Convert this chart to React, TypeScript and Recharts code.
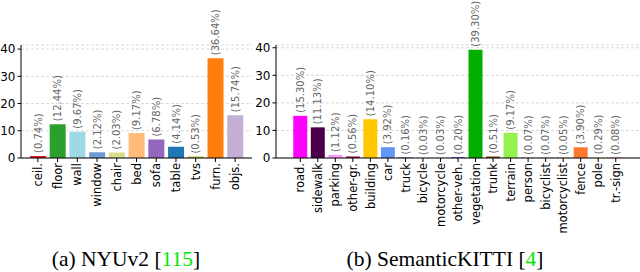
import React from 'react';
import { BarChart, Bar, XAxis, YAxis, CartesianGrid, LabelList, Cell } from 'recharts';

const nyuClasses = ['ceil.', 'floor', 'wall', 'window', 'chair', 'bed', 'sofa', 'table', 'tvs', 'furn.', 'objs.'];
const nyuValues = [0.74, 12.44, 9.67, 2.12, 2.03, 9.17, 6.78, 4.14, 0.53, 36.64, 15.74];
const nyuColors = ['#e41a1c', '#2ca02c', '#9edae5', '#6f9bd1', '#dbdb8d', '#ffbb78', '#9467bd', '#1f77b4', '#bcbd22', '#ff7f0e', '#c5b0d5'];

const kittiClasses = [
  'road.', 'sidewalk', 'parking', 'other-gr.', 'building', 'car', 'truck', 'bicycle', 'motorcycle',
  'other-veh.', 'vegetation', 'trunk', 'terrain', 'person', 'bicyclist', 'motorcyclist', 'fence', 'pole', 'tr.-sign',
];
const kittiValues = [15.3, 11.13, 1.12, 0.56, 14.1, 3.92, 0.16, 0.03, 0.03, 0.2, 39.3, 0.51, 9.17, 0.07, 0.07, 0.05, 3.9, 0.29, 0.08];
const kittiColors = [
  '#ff00ff', '#4b004b', '#ff96ff', '#af004b', '#ffc800', '#6496f5', '#501eb4', '#64e6f5', '#1e3c96',
  '#0000ff', '#00af00', '#873c00', '#96f050', '#ff1e1e', '#ff28c8', '#961e5a', '#ff7832', '#fff096', '#ff0000',
];

const yTicks = [0, 10, 20, 30, 40];

const FONT = '"DejaVu Sans", sans-serif';

const nyuData = nyuClasses.map((name, i) => ({ name, value: nyuValues[i] }));
const kittiData = kittiClasses.map((name, i) => ({ name, value: kittiValues[i] }));

const RotatedTick = (props: any) => {
  const { x, y, payload } = props;
  return (
    <g transform={`translate(${x},${y})`}>
      <text transform="rotate(-90)" textAnchor="end" dy="0.36em" fontSize={11.5} fontFamily={FONT} fill="#000">
        {payload.value}
      </text>
    </g>
  );
};

const ValueLabel = (props: any) => {
  const { x, y, width, value } = props;
  const cx = x + width / 2;
  return (
    <text
      transform={`translate(${cx},${y - 3}) rotate(-90)`}
      textAnchor="start"
      dy="0.36em"
      fontSize={10}
      fontFamily={FONT}
      fill="#666"
    >
      {`(${value.toFixed(2)}%)`}
    </text>
  );
};

type PanelProps = {
  data: { name: string; value: number }[];
  colors: string[];
  width: number;
  axisWidth: number;
  pad: number;
  top: number;
};

const Panel = ({ data, colors, width, axisWidth, pad, top }: PanelProps) => (
  <BarChart width={width} height={245} data={data} margin={{ top: 45, right: 0, bottom: 0, left: 0 }} barCategoryGap="10%">
    <CartesianGrid vertical={false} stroke="#cfcfcf" strokeDasharray="3 2" strokeWidth={0.8} />
    <XAxis
      dataKey="name"
      interval={0}
      height={87}
      padding={{ left: pad, right: pad }}
      tick={<RotatedTick />}
      tickSize={4}
      tickMargin={1}
      axisLine={{ stroke: '#000', strokeWidth: 1 }}
      tickLine={{ stroke: '#000' }}
    />
    <YAxis
      width={axisWidth}
      domain={[0, top]}
      ticks={yTicks}
      allowDataOverflow
      tickSize={3.5}
      tickMargin={2}
      tick={{ fontSize: 12, fontFamily: FONT, fill: '#000' }}
      axisLine={{ stroke: '#000', strokeWidth: 1 }}
      tickLine={{ stroke: '#000' }}
    />
    <Bar dataKey="value" isAnimationActive={false}>
      {data.map((d, i) => (
        <Cell key={d.name} fill={colors[i]} />
      ))}
      <LabelList dataKey="value" content={<ValueLabel />} />
    </Bar>
  </BarChart>
);

const captionStyle: React.CSSProperties = {
  position: 'absolute',
  top: 249,
  fontFamily: '"Liberation Serif", "Times New Roman", serif',
  fontSize: 21.5,
  lineHeight: '21px',
  textAlign: 'center',
  whiteSpace: 'nowrap',
  color: '#000',
};

const App = () => (
  <div style={{ position: 'absolute', left: 0, top: 0, width: 640, height: 272, background: '#fff', overflow: 'hidden' }}>
    <div style={{ position: 'absolute', left: 0, top: 0 }}>
      <Panel data={nyuData} colors={nyuColors} width={252} axisWidth={21} pad={7} top={41.5} />
    </div>
    <div style={{ position: 'absolute', left: 240, top: 0 }}>
      <Panel data={kittiData} colors={kittiColors} width={400} axisWidth={36} pad={15.5} top={41} />
    </div>
    <div style={{ ...captionStyle, left: 26, width: 200 }}>
      (a) NYUv2 [<span style={{ color: '#00e600' }}>115</span>]
    </div>
    <div style={{ ...captionStyle, left: 345, width: 200 }}>
      (b) SemanticKITTI [<span style={{ color: '#00e600' }}>4</span>]
    </div>
  </div>
);

export default App;
